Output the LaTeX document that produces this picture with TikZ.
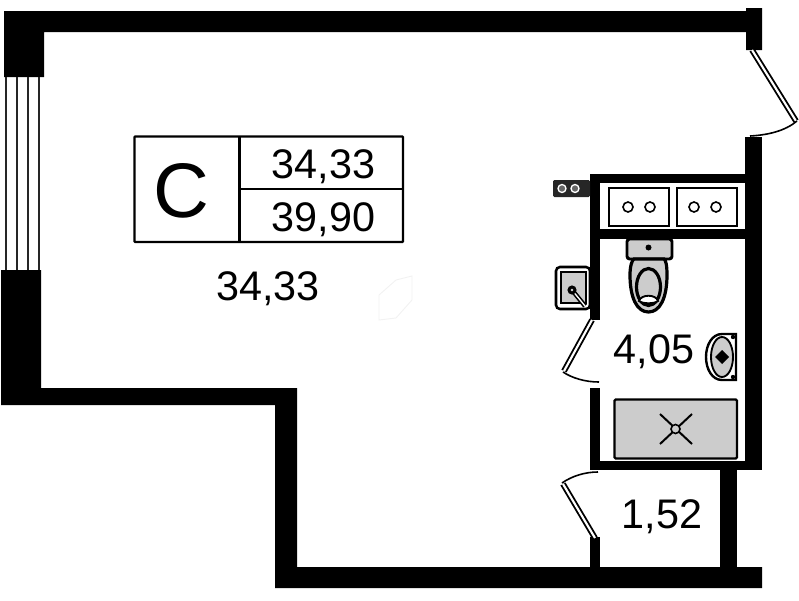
\documentclass[tikz,border=0pt]{standalone}
\usepackage{fontspec}
\setmainfont{Liberation Sans}
\definecolor{fix}{gray}{0.80}
\tikzset{
  wall/.style={fill=black,draw=none},
  fixture/.style={draw=black,fill=fix,line width=1.7pt},
  plain/.style={draw=black,fill=white,line width=1.2pt},
  swing/.style={draw=black,line width=1.2pt},
  label/.style={anchor=base,inner sep=0pt,font=\fontsize{31}{36}\selectfont},
  glass/.style={draw=black!85,line width=1.5pt},
}
\newcommand{\doorleaf}[2]{\draw[black,line width=4.4pt] #1 -- #2; \draw[white,line width=1.6pt] #1 -- #2;}
\begin{document}
\begin{tikzpicture}[x=0.75pt,y=-0.75pt]
\useasboundingbox (0,0) rectangle (799,600);
% outer walls
\fill[wall] (4,11) -- (746,11) -- (746,8) -- (762,8) -- (762,50) -- (746,50) -- (746,32) -- (44,32) -- (44,77) -- (4,77) -- cycle;
\fill[wall] (1,270) -- (41,270) -- (41,388) -- (297,388) -- (297,567) -- (762,567) -- (762,588) -- (275,588) -- (275,405) -- (1,405) -- cycle;
\fill[wall] (745,137) rectangle (762,470);
% partitions
\fill[wall] (590,174) rectangle (745,183);
\fill[wall] (590,174) rectangle (600,320);
\fill[wall] (600,229) rectangle (745,239);
\fill[wall] (590,388) rectangle (600,470);
\fill[wall] (590,461) rectangle (745,470);
\fill[wall] (590,537) rectangle (600,567);
\fill[wall] (720,470) rectangle (737,567);
% window
\foreach \x in {5.5,17,28,38.5} \draw[glass] (\x,77) -- (\x,270);
% doors
\doorleaf{(752,50)}{(796,121)}
\draw[swing] (797,121) .. controls (785,131) and (768,135) .. (750,136);
\doorleaf{(592,320)}{(564,371)}
\draw[swing] (563,372) .. controls (572,378) and (585,382) .. (599,382);
\doorleaf{(563,484)}{(595,538)}
\draw[swing] (562,483) .. controls (572,476) and (585,472) .. (598,472);
% stove
\fill[black!85,rounded corners=1pt] (553,180) rectangle (590,197);
\draw[white,line width=1pt,fill=black!60] (562,188.5) circle (4);
\draw[white,line width=1pt,fill=black!60] (575,188.5) circle (4);
% kitchen sink
\draw[draw=black,fill=white,line width=1.9pt,rounded corners=3pt] (556,267) rectangle (590,309);
\draw[fixture,line width=1.4pt] (561,272) rectangle (586,303);
\draw[black,line width=3.4pt] (572,290) -- (585,306);
\draw[white,line width=1pt] (572,290) -- (585,306);
\draw[draw=black,fill=fix,line width=2.2pt] (572,290) circle (3);
% counter
\draw[plain] (609,188) rectangle (669,226);
\draw[plain] (677,188) rectangle (737,226);
\foreach \x in {628,650,694,716} \draw[draw=black,fill=white,line width=1.2pt] (\x,207) circle (5);
% toilet
\draw[draw=black,fill=fix,line width=2.2pt,rounded corners=2pt] (627,239) rectangle (672,259);
\fill[black] (648.5,247.5) circle (3);
\draw[draw=black,fill=fix,line width=2.4pt] (630,275) .. controls (630,266) and (632,260) .. (634,259) -- (664,259) .. controls (666,260) and (667,266) .. (667,275) .. controls (667,298) and (660,312) .. (648.5,312) .. controls (637,312) and (630,298) .. (630,275) -- cycle;
\draw[draw=black,fill=fix,line width=2.4pt] (648.5,287) ellipse (12 and 18.5);
\draw[draw=black,fill=white,line width=1.4pt] (639,301) .. controls (641,294) and (656,294) .. (658,301) .. controls (654,304) and (643,304) .. (639,301) -- cycle;
% washbasin
\draw[draw=black,fill=white,line width=1.8pt] (736,334) -- (722,334) .. controls (712,334) and (706,345) .. (706,357) .. controls (706,369) and (712,380) .. (722,380) -- (736,380) -- cycle;
\draw[draw=black,fill=fix,line width=1.4pt] (722,357) ellipse (11 and 20);
\fill[black] (722,350) -- (729,357) -- (722,364) -- (715,357) -- cycle;
\fill[black] (733,337) circle (2.2);
\fill[black] (733,377) circle (2.2);
% shower
\draw[fixture,rounded corners=1pt] (614.5,399.5) rectangle (737,458.5);
\draw[black,line width=1.5pt] (660,414) -- (692,444);
\draw[black,line width=1.5pt] (692,414) -- (660,444);
\draw[draw=black,fill=fix,line width=1.2pt] (675.5,429) circle (4.5);
% faint mark
\draw[black!5,line width=0.7pt] (379,295) -- (379,320) -- (396,318) -- (412,300) -- (412,276) -- (396,280) -- cycle;
% info table
\draw[black,line width=1.7pt,rounded corners=0.5pt] (134.5,136.5) rectangle (403,242);
\draw[black,line width=1.6pt] (239.5,136.5) -- (239.5,242);
\draw[black,line width=1.3pt] (239.5,189) -- (403,189);
% labels
\node[label,font=\fontsize{58}{64}\selectfont] (cls) at (181,217) {С};
\node[label] (livingA) at (323.5,178) {34,33};
\node[label] (totalA) at (323.5,231) {39,90};
\node[label] (living) at (268,300) {34,33};
\node[label] (bath) at (654,363) {4,05};
\node[label] (hall) at (662,528) {1,52};
\end{tikzpicture}
\end{document}
